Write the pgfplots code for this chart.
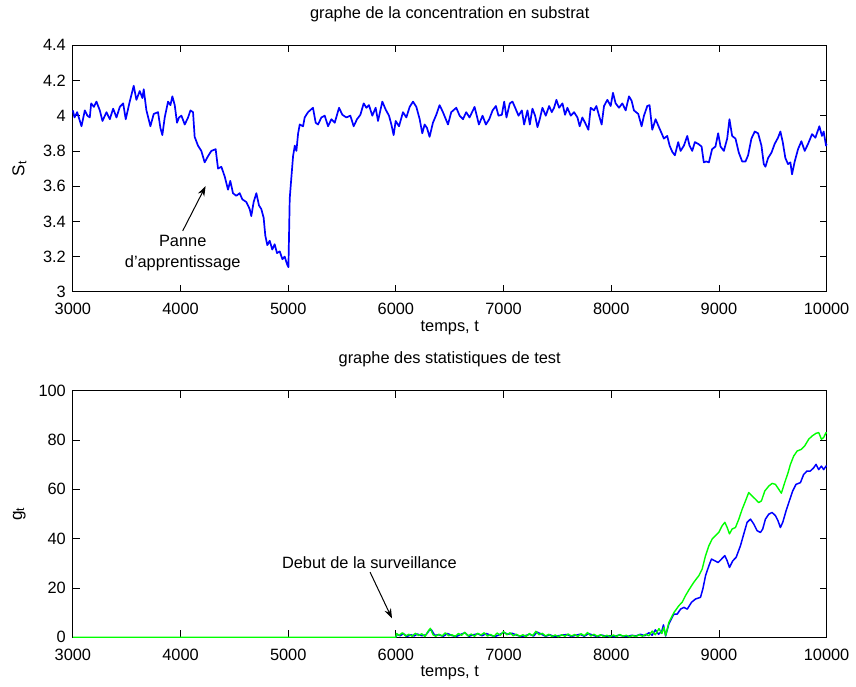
\documentclass[border=0pt]{standalone}
\usepackage{fontspec}
\setmainfont{Liberation Sans}
\usepackage{pgfplots}
\pgfplotsset{compat=1.18}
\usetikzlibrary{arrows.meta}
\definecolor{mblue}{rgb}{0,0,1}
\definecolor{mgreen}{rgb}{0,1,0}

\pgfplotsset{
  mstyle/.style={
    scale only axis, width=377.5pt, height=123.5pt,
    xmin=3000, xmax=10000,
    xtick={3000,4000,5000,6000,7000,8000,9000,10000},
    scaled x ticks=false, scaled y ticks=false,
    tick align=inside, major tick length=3.5pt,
    axis line style={line width=0.6pt},
    every tick/.style={black, line width=0.4pt},
    /pgf/number format/1000 sep={},
    /pgf/number format/assume math mode=true,
    tick label style={font=\fontsize{8.2}{10}\selectfont},
    xticklabel style={yshift=-2.3pt},
    label style={font=\fontsize{8.6}{10}\selectfont},
    title style={font=\fontsize{8.2}{10}\selectfont,
                 at={(axis description cs:0.5,1.077)}, anchor=center},
    xlabel style={font=\fontsize{8.2}{10}\selectfont,
                  at={(axis description cs:0.5,-0.146)}, anchor=center},
    ylabel style={at={(axis description cs:-0.071,0.5)}, anchor=center},
    xlabel={temps, t},
    clip=false,
  }
}

\begin{document}
\begin{tikzpicture}[font=\fontsize{8.2}{10.5}\selectfont]
  % --- concentration en substrat
  \begin{axis}[mstyle, name=top,
      title={graphe de la concentration en substrat},
      ymin=3, ymax=4.4,
      ytick={3,3.2,3.4,3.6,3.8,4,4.2,4.4},
      ylabel={S\textsubscript{t}},
    ]
    \addplot[mblue, line width=0.85pt, line join=round] coordinates {
      (3000,4.03) (3015,3.99) (3040,4.02) (3080,3.94) (3111,4.03) (3135,4.00)
      (3157,3.99) (3170,4.07) (3195,4.05) (3219,4.08) (3250,4.03) (3275,3.97)
      (3312,4.02) (3343,3.98) (3374,4.04) (3405,3.99) (3436,4.05) (3467,4.07)
      (3491,3.98) (3528,4.08) (3565,4.17) (3590,4.09) (3621,4.14) (3646,4.10)
      (3658,4.15) (3683,4.03) (3720,3.94) (3751,4.01) (3791,4.02) (3813,3.93)
      (3831,3.89) (3853,3.99) (3884,4.08) (3906,4.06) (3924,4.11) (3946,4.06)
      (3967,3.96) (3986,3.99) (4008,4.00) (4039,3.95) (4070,3.99) (4092,4.03)
      (4116,4.02) (4131,3.88) (4162,3.83) (4193,3.80) (4224,3.735) (4255,3.77)
      (4286,3.80) (4326,3.81) (4348,3.70) (4379,3.71) (4410,3.655) (4441,3.58)
      (4462,3.63) (4487,3.56) (4518,3.545) (4549,3.56) (4574,3.525) (4611,3.51)
      (4642,3.47) (4657,3.43) (4679,3.51) (4704,3.56) (4729,3.49) (4750,3.47)
      (4772,3.42) (4787,3.32) (4806,3.265) (4828,3.29) (4852,3.24) (4874,3.27)
      (4896,3.22) (4921,3.23) (4946,3.185) (4967,3.20) (4989,3.157) (5002,3.14)
      (5014,3.53) (5030,3.655) (5045,3.77) (5061,3.83) (5076,3.80) (5092,3.90)
      (5107,3.95) (5138,3.94) (5153,3.99) (5184,4.02) (5230,4.045) (5255,3.96)
      (5277,3.95) (5308,3.99) (5339,4.00) (5370,3.94) (5401,3.98) (5432,3.96)
      (5472,4.045) (5503,4.005) (5540,3.99) (5577,4.00) (5608,3.94) (5639,3.98)
      (5670,4.005) (5701,4.07) (5726,4.045) (5750,4.06) (5781,4.00) (5812,4.045)
      (5834,3.97) (5874,4.08) (5905,4.035) (5936,4.00) (5958,3.95) (5979,3.89)
      (5998,3.97) (6029,3.94) (6066,4.02) (6097,3.99) (6128,4.05) (6159,4.08)
      (6190,4.05) (6221,3.98) (6245,3.90) (6267,3.95) (6289,3.93) (6313,3.88)
      (6344,3.96) (6375,4.005) (6406,4.06) (6437,4.02) (6484,3.95) (6514,4.02)
      (6561,4.045) (6592,4.00) (6623,3.98) (6653,4.02) (6684,3.99) (6731,4.05)
      (6771,3.95) (6805,4.00) (6836,3.95) (6867,3.98) (6898,4.03) (6929,4.055)
      (6953,4.00) (6984,4.005) (7006,4.08) (7027,3.99) (7058,4.07) (7083,4.08)
      (7108,4.045) (7139,4.00) (7170,4.03) (7191,3.95) (7222,4.03) (7244,3.95)
      (7268,4.04) (7293,4.00) (7315,3.935) (7336,3.98) (7361,4.045) (7392,4.00)
      (7423,4.055) (7448,4.02) (7469,4.045) (7491,4.09) (7516,4.045) (7547,4.07)
      (7571,4.005) (7593,4.045) (7624,4.00) (7655,4.02) (7686,3.99) (7707,3.94)
      (7732,3.99) (7757,3.96) (7788,3.92) (7809,4.045) (7840,4.03) (7862,4.055)
      (7887,4.00) (7911,3.95) (7933,4.055) (7964,4.09) (7995,4.055) (8016,4.13)
      (8041,4.07) (8072,4.045) (8103,4.07) (8134,4.03) (8165,4.11) (8189,4.085)
      (8211,4.03) (8251,4.01) (8282,3.94) (8304,4.00) (8335,4.055) (8356,4.06)
      (8381,3.92) (8412,3.98) (8443,3.935) (8468,3.90) (8489,3.87) (8520,3.885)
      (8542,3.83) (8567,3.795) (8591,3.775) (8622,3.85) (8644,3.80) (8675,3.83)
      (8706,3.885) (8727,3.83) (8752,3.80) (8777,3.85) (8808,3.84) (8839,3.825)
      (8860,3.735) (8882,3.74) (8907,3.735) (8937,3.81) (8968,3.825) (8993,3.90)
      (9015,3.825) (9046,3.80) (9077,3.87) (9098,3.98) (9123,3.885) (9154,3.87)
      (9185,3.79) (9216,3.74) (9247,3.74) (9271,3.775) (9302,3.87) (9333,3.91)
      (9364,3.90) (9395,3.83) (9417,3.725) (9432,3.71) (9457,3.76) (9488,3.79)
      (9518,3.84) (9549,3.875) (9571,3.91) (9593,3.85) (9617,3.76) (9642,3.725)
      (9664,3.735) (9679,3.667) (9704,3.74) (9735,3.81) (9766,3.855) (9797,3.80)
      (9828,3.84) (9865,3.895) (9896,3.875) (9933,3.94) (9957,3.885) (9973,3.91)
      (9995,3.83) (10000,3.84)
    };
    \draw[-{Stealth[length=5pt,width=3.5pt]}, line width=0.5pt]
      (axis cs:4020,3.346) -- (axis cs:4233,3.60);
    \node[align=center] at (axis cs:4020,3.218) {Panne\\d’apprentissage};
  \end{axis}

  % --- statistiques de test
  \begin{axis}[mstyle, name=bot,
      at={(top.south west)}, anchor=north west, yshift=-49.5pt,
      title={graphe des statistiques de test},
      ymin=0, ymax=100,
      ytick={0,20,40,60,80,100},
      ylabel={g\textsubscript{t}},
    ]
    \addplot[mblue, line width=0.75pt, line join=round] coordinates {
      (6000,0) (6010,1.2) (6040,0.6) (6070,1.5) (6100,0.3) (6140,1.0)
      (6170,0.5) (6200,1.3) (6240,0.6) (6280,1.0) (6310,2.8) (6330,3.0)
      (6360,0.8) (6400,1.0) (6440,0.4) (6480,1.5) (6520,0.7) (6560,0.3)
      (6600,1.1) (6640,1.8) (6680,0.4) (6720,1.0) (6760,1.4) (6800,0.6)
      (6840,1.5) (6880,0.8) (6920,0.3) (6960,1.0) (7000,2.0) (7040,1.2)
      (7080,1.6) (7120,0.9) (7160,0.3) (7200,0.6) (7240,1.2) (7280,0.5)
      (7310,2.1) (7350,1.3) (7390,0.4) (7430,1.0) (7470,0.3) (7510,0.6)
      (7550,0.9) (7590,1.1) (7630,0.3) (7670,0.8) (7710,1.2) (7750,0.4)
      (7790,1.5) (7830,0.8) (7870,0.3) (7910,0.9) (7950,0.4) (7990,0.6)
      (8030,0.2) (8070,0.9) (8110,0.5) (8150,0.3) (8190,0.8) (8230,0.5)
      (8270,1.2) (8310,0.6) (8350,1.8) (8380,0.8) (8410,3.0) (8440,1.2)
      (8470,2.5) (8485,5.0) (8505,0.5) (8536,5.5) (8582,9.4) (8613,9.4)
      (8644,11.4) (8675,12.1) (8706,11.4) (8746,14.2) (8783,15.5) (8829,16.2)
      (8851,19.6) (8876,25.0) (8907,29.0) (8931,31.7) (8962,31.0) (8993,30.3)
      (9024,31.7) (9055,33.1) (9077,31.0) (9098,28.3) (9129,31.0) (9160,32.4)
      (9200,37.1) (9231,41.9) (9262,46.6) (9293,47.9) (9324,45.9) (9355,43.2)
      (9386,42.5) (9407,43.9) (9432,47.9) (9463,49.9) (9494,50.6) (9525,49.3)
      (9549,47.2) (9571,44.5) (9593,46.6) (9624,51.3) (9654,55.3) (9685,59.3)
      (9716,62.0) (9757,62.7) (9787,66.0) (9818,67.4) (9849,67.4) (9880,68.7)
      (9902,70.1) (9927,68.0) (9952,69.4) (9973,68.0) (9995,69.4) (10000,69.2)
    };
    \addplot[mgreen, line width=0.7pt, line join=round] coordinates {
      (3000,0) (6000,0) (6005,1.5) (6030,0.8) (6060,1.8) (6090,0.5) (6120,1.2)
      (6150,0.4) (6180,1.6) (6210,0.7) (6240,1.4) (6270,0.3) (6300,2.5)
      (6320,3.6) (6345,1.0) (6370,0.4) (6400,1.2) (6430,0.5) (6460,1.8)
      (6490,0.6) (6520,1.0) (6550,0.3) (6580,1.5) (6610,0.8) (6640,2.0)
      (6670,0.5) (6700,1.3) (6730,0.4) (6760,1.6) (6790,0.9) (6820,1.8)
      (6850,0.5) (6880,1.1) (6910,0.3) (6940,1.7) (6970,0.8) (7000,2.3)
      (7030,1.0) (7060,1.8) (7090,0.6) (7120,1.2) (7150,0.4) (7180,1.0)
      (7210,0.3) (7240,1.5) (7270,0.6) (7300,2.4) (7330,1.0) (7360,1.6)
      (7390,0.5) (7420,1.2) (7450,0.3) (7480,0.9) (7510,0.2) (7540,1.0)
      (7570,0.4) (7600,1.3) (7630,0.5) (7660,1.1) (7690,0.3) (7720,1.4)
      (7750,0.6) (7780,1.9) (7810,0.5) (7840,1.2) (7870,0.4) (7900,1.0)
      (7930,0.3) (7960,0.8) (7990,0.2) (8020,0.9) (8050,0.3) (8080,1.1)
      (8110,0.4) (8140,0.8) (8170,0.2) (8200,0.7) (8230,0.3) (8260,1.0)
      (8290,0.4) (8320,1.2) (8350,0.6) (8380,2.5) (8410,1.0) (8443,3.5)
      (8470,1.5) (8489,4.0) (8505,0.7) (8536,6.1) (8582,10.0) (8628,12.8)
      (8659,14.2) (8690,16.9) (8727,19.6) (8767,22.3) (8814,25.0) (8845,27.7)
      (8876,33.1) (8907,37.1) (8937,39.8) (8968,41.2) (8999,42.5) (9030,45.2)
      (9055,46.6) (9077,44.5) (9098,41.9) (9123,43.9) (9154,44.5) (9185,47.9)
      (9216,51.9) (9247,55.3) (9277,58.7) (9308,57.3) (9339,56.0) (9370,54.6)
      (9395,55.3) (9426,59.3) (9463,61.3) (9494,62.4) (9525,62.0) (9556,60.0)
      (9580,58.4) (9611,62.7) (9642,66.7) (9664,70.1) (9695,73.5) (9726,75.5)
      (9766,76.2) (9797,77.6) (9834,80.3) (9865,81.6) (9902,82.7) (9927,83.0)
      (9952,80.3) (9973,81.0) (9995,83.0) (10000,82.6)
    };
    \draw[-{Stealth[length=5pt,width=3.5pt]}, line width=0.5pt]
      (axis cs:5760,26.4) -- (axis cs:5964,7.6);
    \node at (axis cs:5754,30.1) {Debut de la surveillance};
  \end{axis}

  % page = reference frame
  \path (top.north west) ++(-36.5pt,19.5pt) coordinate (bbtl);
  \path (bot.south east) ++(14pt,-23.5pt) coordinate (bbbr);
  \path (bbtl) rectangle (bbbr);
\end{tikzpicture}
\end{document}
